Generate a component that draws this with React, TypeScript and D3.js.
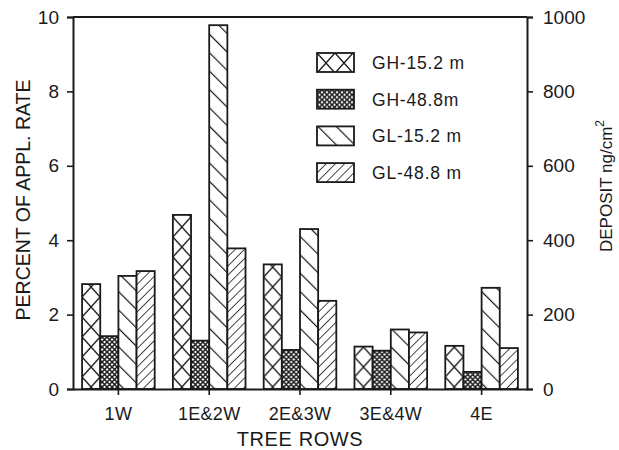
import { useEffect, useRef } from "react";
import * as d3 from "d3";

const rows = ["1W", "1E&2W", "2E&3W", "3E&4W", "4E"];
const seriesNames = ["GH-15.2 m", "GH-48.8m", "GL-15.2 m", "GL-48.8 m"];
const gh152 = [2.82, 4.68, 3.35, 1.14, 1.16];
const gh488 = [1.42, 1.3, 1.05, 1.03, 0.46];
const gl152 = [3.04, 9.78, 4.3, 1.6, 2.72];
const gl488 = [3.17, 3.78, 2.37, 1.52, 1.1];
const leftTicks = [0, 2, 4, 6, 8, 10];
const rightTicks = [0, 200, 400, 600, 800, 1000];

const FONT = "'Liberation Sans', Arial, Helvetica, sans-serif";
const INK = "#1a1a1a";

export default function App() {
    const svgRef = useRef<SVGSVGElement>(null);

    useEffect(() => {
        const svg = d3.select(svgRef.current);
        svg.selectAll("*").remove();

        const width = 619;
        const height = 450;
        const margin = { top: 17, right: 92, bottom: 61, left: 73 };
        const innerWidth = width - margin.left - margin.right;
        const innerHeight = height - margin.top - margin.bottom;

        svg.attr("width", width).attr("height", height);

        // hatch patterns
        const defs = svg.append("defs");
        const crossPat = defs
            .append("pattern")
            .attr("id", "p0")
            .attr("patternUnits", "userSpaceOnUse")
            .attr("width", 18)
            .attr("height", 20);
        crossPat.append("rect").attr("width", 18).attr("height", 20).attr("fill", "white");
        crossPat.append("path").attr("d", "M0,0L18,20M18,0L0,20").attr("stroke", INK).attr("stroke-width", 1.4);

        const densePat = defs
            .append("pattern")
            .attr("id", "p1")
            .attr("patternUnits", "userSpaceOnUse")
            .attr("width", 5)
            .attr("height", 5);
        densePat.append("rect").attr("width", 5).attr("height", 5).attr("fill", "white");
        densePat.append("path").attr("d", "M0,0L5,5M5,0L0,5").attr("stroke", INK).attr("stroke-width", 1.5);

        // "\" lines
        const backPat = defs
            .append("pattern")
            .attr("id", "p2")
            .attr("patternUnits", "userSpaceOnUse")
            .attr("width", 13)
            .attr("height", 13)
            .attr("patternTransform", "rotate(-45)");
        backPat.append("rect").attr("width", 13).attr("height", 13).attr("fill", "white");
        backPat.append("line").attr("x1", 0).attr("y1", 0).attr("x2", 0).attr("y2", 13).attr("stroke", INK).attr("stroke-width", 2.4);

        // "/" lines
        const fwdPat = defs
            .append("pattern")
            .attr("id", "p3")
            .attr("patternUnits", "userSpaceOnUse")
            .attr("width", 6.5)
            .attr("height", 6.5)
            .attr("patternTransform", "rotate(45)");
        fwdPat.append("rect").attr("width", 6.5).attr("height", 6.5).attr("fill", "white");
        fwdPat.append("line").attr("x1", 0).attr("y1", 0).attr("x2", 0).attr("y2", 6.5).attr("stroke", INK).attr("stroke-width", 1.6);

        const g = svg.append("g").attr("transform", `translate(${margin.left},${margin.top})`);

        const x = d3.scaleBand().domain(rows).range([0, innerWidth]).paddingInner(0.2).paddingOuter(0.1);
        const xSub = d3.scaleBand().domain(seriesNames).range([0, x.bandwidth()]);
        const y = d3.scaleLinear().domain([0, 10]).range([innerHeight, 0]);
        const y2 = d3.scaleLinear().domain([0, 1000]).range([innerHeight, 0]);

        const series = [gh152, gh488, gl152, gl488];
        const table = rows.map((r, i) => ({ row: r, values: series.map((s, k) => ({ key: seriesNames[k], k, v: s[i] })) }));

        g.selectAll(".grp")
            .data(table)
            .enter()
            .append("g")
            .attr("transform", (d) => `translate(${x(d.row)},0)`)
            .selectAll("rect")
            .data((d) => d.values)
            .enter()
            .append("rect")
            .attr("x", (d) => xSub(d.key)!)
            .attr("y", (d) => y(d.v))
            .attr("width", xSub.bandwidth())
            .attr("height", (d) => innerHeight - y(d.v))
            .attr("fill", (d) => `url(#p${d.k})`)
            .attr("stroke", INK)
            .attr("stroke-width", 1.8);

        // frame top
        g.append("line").attr("x1", 0).attr("x2", innerWidth).attr("y1", 0).attr("y2", 0).attr("stroke", INK).attr("stroke-width", 2);

        const left = g.append("g").call(d3.axisLeft(y).tickValues(leftTicks).tickSize(6).tickPadding(8).tickFormat(d3.format("d")));
        const right = g
            .append("g")
            .attr("transform", `translate(${innerWidth},0)`)
            .call(d3.axisRight(y2).tickValues(rightTicks).tickSize(6).tickPadding(10).tickFormat(d3.format("d")));
        const bottom = g
            .append("g")
            .attr("transform", `translate(0,${innerHeight})`)
            .call(d3.axisBottom(x).tickSize(6).tickPadding(12).tickSizeOuter(0));

        [left, right, bottom].forEach((ax) => {
            ax.select(".domain").attr("stroke", INK).attr("stroke-width", 2);
            ax.selectAll(".tick line").attr("stroke", INK).attr("stroke-width", 1.6);
            ax.selectAll(".tick text").attr("fill", INK).style("font-family", FONT).style("font-size", "19px");
        });
        bottom.selectAll(".tick text").style("font-size", "18px").style("letter-spacing", "0.3px");

        g.append("text")
            .attr("transform", `translate(${30 - margin.left},${200 - margin.top}) rotate(-90)`)
            .attr("text-anchor", "middle")
            .attr("fill", INK)
            .style("font-family", FONT)
            .style("font-size", "19.5px")
            .text("PERCENT OF APPL. RATE");

        const dep = g
            .append("text")
            .attr("transform", `translate(${612 - margin.left},${186 - margin.top}) rotate(-90)`)
            .attr("text-anchor", "middle")
            .attr("fill", INK)
            .style("font-family", FONT)
            .style("font-size", "17px");
        dep.append("tspan").text("DEPOSIT  ng/cm");
        dep.append("tspan").attr("dy", -8).style("font-size", "12px").text("2");

        g.append("text")
            .attr("x", innerWidth / 2)
            .attr("y", 446 - margin.top)
            .attr("text-anchor", "middle")
            .attr("fill", INK)
            .style("font-family", FONT)
            .style("font-size", "20px")
            .style("letter-spacing", "0.6px")
            .text("TREE ROWS");

        // legend
        const legend = g
            .append("g")
            .attr("transform", `translate(${317 - margin.left},${53 - margin.top})`)
            .selectAll("g")
            .data(seriesNames)
            .enter()
            .append("g")
            .attr("transform", (d, i) => `translate(0,${i * 36.7})`);
        legend
            .append("rect")
            .attr("width", 37)
            .attr("height", 19)
            .attr("fill", (d, i) => `url(#p${i})`)
            .attr("stroke", INK)
            .attr("stroke-width", 1.8);
        legend
            .append("text")
            .attr("x", 55)
            .attr("y", 16)
            .attr("fill", INK)
            .style("font-family", FONT)
            .style("font-size", "17.5px")
            .style("letter-spacing", "0.8px")
            .text((d) => d);
    }, []);

    return (
        <div style={{ position: "absolute", left: 0, top: 0 }}>
            <svg ref={svgRef} style={{ display: "block" }} />
        </div>
    );
}
